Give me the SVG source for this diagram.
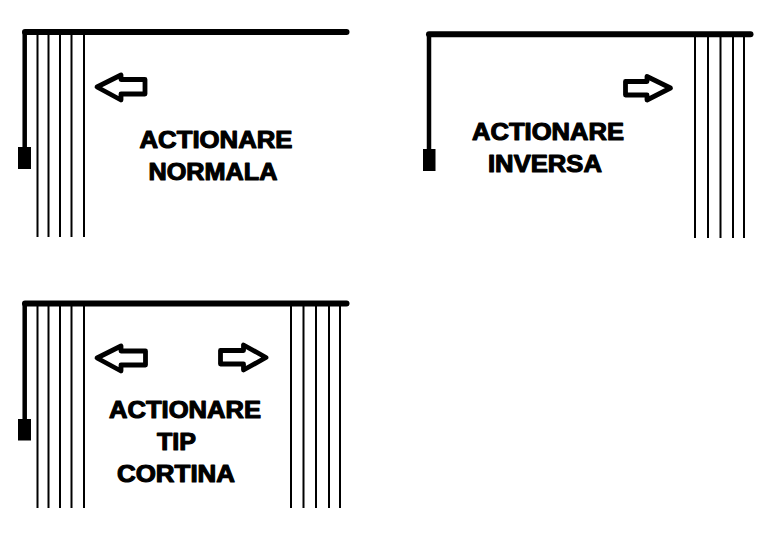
<svg xmlns="http://www.w3.org/2000/svg" width="768" height="545" viewBox="0 0 768 545">
<style>
.rail{stroke:#000;stroke-width:6;stroke-linecap:round;fill:none}
.drop{stroke:#000;stroke-width:4.500;fill:none}
.slat{stroke:#000;stroke-width:2;fill:none}
.block{fill:#000}
.arrow{fill:#fff;stroke:#000;stroke-width:4.800;stroke-linejoin:round}
text{font-family:"Liberation Sans",Arial,sans-serif;font-weight:700;font-size:23.500px;fill:#000;stroke:#000;stroke-width:1.100;stroke-linejoin:round}
</style>
<rect width="768" height="545" fill="#fff"/>
<g id="normala">
<path class="rail" d="M25 32H346.500"/>
<path class="drop" d="M24.700 32V148"/>
<rect class="block" x="18" y="147" width="13" height="22"/>
<path class="slat" d="M37.500 33V237M48.500 33V237M60 33V237M71.500 33V237M84 33V237"/>
<path class="arrow" d="M97 87L121 75V79.500H145V94H121V100Z"/>
<text x="139.500" y="148" textLength="153" lengthAdjust="spacingAndGlyphs">ACTIONARE</text>
<text x="148.500" y="180" textLength="129" lengthAdjust="spacingAndGlyphs">NORMALA</text>
</g>
<g id="inversa">
<path class="rail" d="M429 34.300H750.500"/>
<path class="drop" d="M429 34V150"/>
<rect class="block" x="423" y="149" width="12.500" height="22"/>
<path class="slat" d="M695 36V238M708 36V238M720.500 36V238M733 36V238M744 36V238"/>
<path class="arrow" d="M670.500 88L647 76.500V81.500H625.500V95H647V100Z"/>
<text x="472" y="140" textLength="152" lengthAdjust="spacingAndGlyphs">ACTIONARE</text>
<text x="488" y="172" textLength="114" lengthAdjust="spacingAndGlyphs">INVERSA</text>
</g>
<g id="cortina">
<path class="rail" d="M25 303.500H346.500"/>
<path class="drop" d="M24.700 304V420"/>
<rect class="block" x="18" y="419" width="13" height="21.500"/>
<path class="slat" d="M37.500 305V508M48.500 305V508M60 305V508M71.500 305V508M84 305V508M291 305V508M303.500 305V508M316 305V508M329 305V508M340 305V508"/>
<path class="arrow" d="M97 358L121 346V351H145.500V365H121V371Z"/>
<path class="arrow" d="M266 357.500L243.500 345V350.500H220.500V364H243.500V370Z"/>
<text x="109" y="418" textLength="152" lengthAdjust="spacingAndGlyphs">ACTIONARE</text>
<text x="157" y="450" textLength="39" lengthAdjust="spacingAndGlyphs">TIP</text>
<text x="117" y="482" textLength="118" lengthAdjust="spacingAndGlyphs">CORTINA</text>
</g>
</svg>
